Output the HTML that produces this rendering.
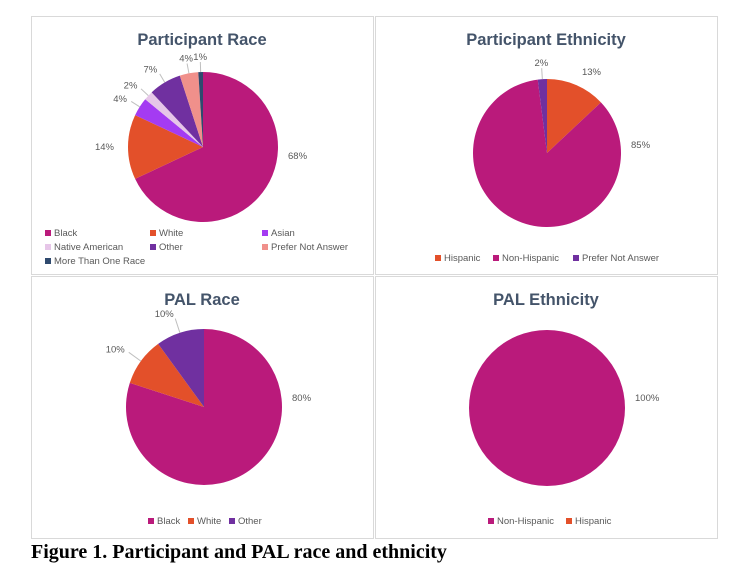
<!DOCTYPE html>
<html><head><meta charset="utf-8"><style>
body{margin:0;background:#fff;width:756px;height:587px;overflow:hidden;font-family:"Liberation Sans",sans-serif}
svg{position:absolute;left:0;top:0}
.cap{position:absolute;left:31px;top:541px;font:bold 20px "Liberation Serif",serif;color:#000}
</style></head><body>
<svg id="s" width="756" height="587"></svg>
<div class="cap">Figure 1. Participant and PAL race and ethnicity</div>
<script>
const raceCats=["Black","White","Asian","Native American","Other","Prefer Not Answer","More Than One Race"];
const raceVals=[68,14,4,2,7,4,1];
const ethCats=["Hispanic","Non-Hispanic","Prefer Not Answer"];
const ethVals=[13,85,2];
const palRaceCats=["Black","White","Other"];
const palRaceVals=[80,10,10];
const palEthCats=["Non-Hispanic","Hispanic"];
const palEthVals=[100,0];
const COL={"Black":"#BA1A7B","White":"#E3502A","Asian":"#A43BF2","Native American":"#E6C6E8","Other":"#7030A0","Prefer Not Answer":"#F0908B","More Than One Race":"#2F4A6E","Hispanic":"#E3502A","Non-Hispanic":"#BA1A7B"};
const ETHCOL={"Prefer Not Answer":"#7030A0"};
const NS="http://www.w3.org/2000/svg";
const S=document.getElementById('s');
function el(t,a,p){const e=document.createElementNS(NS,t);for(const k in a)e.setAttribute(k,a[k]);(p||S).appendChild(e);return e;}
function panel(x,y,w,h,title,name){
  const r=el('rect',{x:x+.5,y:y+.5,width:w,height:h,fill:'#fff',stroke:'#D9D9D9'});
  
  
  const t=el('text',{x:x+w/2,y:y+29,'text-anchor':'middle','font-size':'16.5','font-weight':'bold',fill:'#44546A'});
  t.textContent=title;
  
  
}
function pie(cx,cy,r,cats,vals,name,colmap,lr,bigDy){
  const tot=vals.reduce((a,b)=>a+b,0);let a0=0;
  cats.forEach((c,i)=>{
    const v=vals[i];if(v<=0)return;
    const f=v/tot,a1=a0+f*2*Math.PI;
    const col=(colmap&&colmap[c])||COL[c];
    let p;
    if(f>=0.9999){p=el('circle',{cx:cx,cy:cy,r:r,fill:col});}
    else{
      const x0=cx+r*Math.sin(a0),y0=cy-r*Math.cos(a0),x1=cx+r*Math.sin(a1),y1=cy-r*Math.cos(a1);
      p=el('path',{d:`M${cx},${cy}L${x0},${y0}A${r},${r} 0 ${f>0.5?1:0} 1 ${x1},${y1}Z`,fill:col});
    }
    
    
    const am=(a0+a1)/2,sx=Math.sin(am),sy=-Math.cos(am);
    let lx,ly,anchor;
    if(f>=0.5){lx=cx+r+10;ly=cy+bigDy;anchor='start';}
    else{
      const R=r+(f<0.12?lr:14);
      lx=cx+R*sx;ly=cy+R*sy;
      anchor=sx>0.2?'start':(sx<-0.2?'end':'middle');
      if(f<0.12){
        const ln=el('line',{x1:cx+r*sx,y1:cy+r*sy,x2:cx+(R-5)*sx,y2:cy+(R-5)*sy,stroke:'#BFBFBF','stroke-width':1});
        
        
      }
    }
    const t=el('text',{x:lx,y:ly+3,'text-anchor':anchor,'font-size':'9.5',fill:'#595959'});
    t.textContent=Math.round(f*100)+'%';
    
    
    a0=a1;
  });
}
function legend(items,name,colmap){
  items.forEach(([c,x,y])=>{
    const g=el('g',{});
    
    
    el('rect',{x:x,y:y-6,width:6,height:6,fill:(colmap&&colmap[c])||COL[c]},g);
    const t=el('text',{x:x+9,y:y,'font-size':'9.5',fill:'#595959'},g);t.textContent=c;
  });
}
panel(31,16,342,258,'Participant Race','participant-race');
panel(375,16,342,258,'Participant Ethnicity','participant-ethnicity');
panel(31,276,342,262,'PAL Race','pal-race');
panel(375,276,342,262,'PAL Ethnicity','pal-ethnicity');
pie(203,147,75,raceCats,raceVals,'participant-race',null,15,9);
pie(547,153,74,ethCats,ethVals,'participant-ethnicity',ETHCOL,16,-8);
pie(204,407,78,palRaceCats,palRaceVals,'pal-race',null,20,-9);
pie(547,408,78,palEthCats,palEthVals,'pal-ethnicity',null,20,-10);
legend([["Black",45,236],["White",150,236],["Asian",262,236],["Native American",45,250],["Other",150,250],["Prefer Not Answer",262,250],["More Than One Race",45,264]],'participant-race');
legend([["Hispanic",435,261],["Non-Hispanic",493,261],["Prefer Not Answer",573,261]],'participant-ethnicity',ETHCOL);
legend([["Black",148,524],["White",188,524],["Other",229,524]],'pal-race');
legend([["Non-Hispanic",488,524],["Hispanic",566,524]],'pal-ethnicity');
</script>
</body></html>
